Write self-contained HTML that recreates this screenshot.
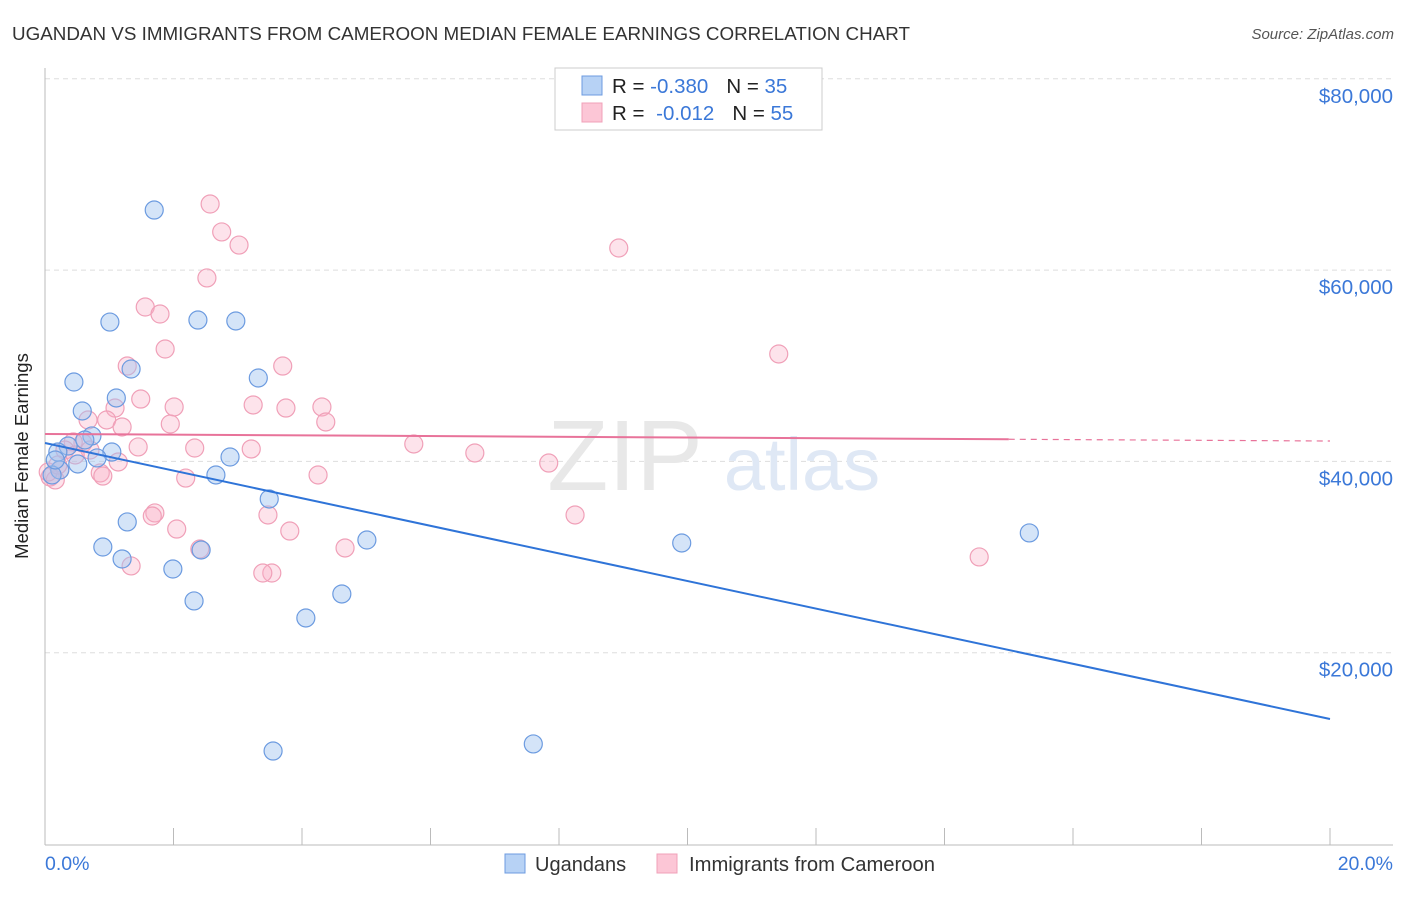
<!DOCTYPE html>
<html><head><meta charset="utf-8"><style>
body{margin:0;background:#fff;font-family:"Liberation Sans",sans-serif;}
svg text{font-family:"Liberation Sans",sans-serif;}
</style></head><body>
<svg id="c" width="1406" height="892" xmlns="http://www.w3.org/2000/svg">
<text x="12" y="40" font-size="18.5" fill="#333" textLength="898" lengthAdjust="spacingAndGlyphs">UGANDAN VS IMMIGRANTS FROM CAMEROON MEDIAN FEMALE EARNINGS CORRELATION CHART</text>
<text x="1394" y="39" font-size="15" fill="#555" font-style="italic" text-anchor="end">Source: ZipAtlas.com</text>
<g id="grid"></g>
<g><text x="625" y="490" font-size="100" fill="#e8e8e8" text-anchor="middle" font-family="Liberation Serif,serif">ZIP</text><text x="802" y="490" font-size="74" fill="#dfe8f5" text-anchor="middle">atlas</text></g>
<line x1="45" y1="68" x2="45" y2="845" stroke="#bbb"/>
<line x1="45" y1="845" x2="1393" y2="845" stroke="#bbb"/>
<g id="xt"></g>
<g id="yl"></g>
<text x="28" y="456" font-size="18.5" fill="#222" text-anchor="middle" transform="rotate(-90 28 456)">Median Female Earnings</text>
<text x="45" y="870" font-size="19.5" fill="#3b78d8">0.0%</text>
<text x="1393" y="870" font-size="19.5" fill="#3b78d8" text-anchor="end">20.0%</text>
<g id="pts"></g>
<g id="tr"></g>
<g>
<rect x="555" y="68" width="267" height="62" fill="#fff" stroke="#ccc"/>
<rect x="582" y="76" width="20" height="19" fill="#b7d2f5" stroke="#6c9be0"/>
<rect x="582" y="103" width="20" height="19" fill="#fcc6d6" stroke="#f0a0b8"/>
<text x="612" y="93" font-size="20.5" fill="#222">R = <tspan fill="#3b78d8">-0.380</tspan><tspan dx="18" fill="#222">N = </tspan><tspan fill="#3b78d8">35</tspan></text>
<text x="612" y="120" font-size="20.5" fill="#222">R = <tspan dx="6" fill="#3b78d8">-0.012</tspan><tspan dx="18" fill="#222">N = </tspan><tspan fill="#3b78d8">55</tspan></text>
</g>
<g>
<rect x="505" y="854" width="20" height="19" fill="#b7d2f5" stroke="#6c9be0"/>
<text x="535" y="871" font-size="20" fill="#333">Ugandans</text>
<rect x="657" y="854" width="20" height="19" fill="#fcc6d6" stroke="#f0a0b8"/>
<text x="689" y="871" font-size="20" fill="#333" textLength="246" lengthAdjust="spacingAndGlyphs">Immigrants from Cameroon</text>
</g>
</svg>
<script>
const yTicks=[20000,40000,60000,80000];
const yTickLabels=["$20,000","$40,000","$60,000","$80,000"];
const xTickVals=[0,2,4,6,8,10,12,14,16,18,20];
const blueX=[1.70,1.01,2.38,2.97,0.45,1.34,3.32,0.58,1.11,0.73,1.04,0.36,0.20,0.81,0.51,0.23,0.11,2.66,2.88,3.49,1.28,0.90,1.20,1.99,2.43,2.32,5.01,4.62,4.06,3.55,7.60,9.91,15.32,0.16,0.62];
const blueY=[66280,54570,54780,54680,48300,49660,48720,45270,46630,42660,40980,41610,40980,40360,39730,39100,38580,38580,40460,36070,33670,31050,29800,28750,30740,25410,31780,26140,23630,9720,10460,31470,32520,40150,42240];
const pinkX=[2.57,2.75,3.02,2.52,8.93,1.56,1.79,1.87,1.28,3.70,11.42,1.49,1.09,2.01,3.24,3.75,4.31,4.37,0.67,0.96,1.20,1.95,1.45,2.33,3.21,5.74,6.69,7.84,0.59,0.44,1.14,0.86,0.90,2.19,4.25,8.25,1.71,1.67,3.47,2.05,3.81,2.41,4.67,1.34,3.53,3.39,14.54,0.23,0.08,0.16,0.31,0.70,0.47,0.05,0.20];
const pinkY=[66910,63990,62620,59180,62310,56140,55410,51750,49970,49970,51230,46520,45580,45690,45900,45580,45690,44120,44330,44330,43600,43910,41510,41400,41300,41820,40880,39830,41920,42030,39940,38790,38470,38260,38580,34400,34610,34290,34400,32930,32720,30840,30950,29070,28330,28330,30010,39100,38370,38060,41190,41190,40670,38890,39620];
const blueTrend=[41920,13070];
const pinkTrend=[42870,42130];
const pinkSolidEnd=15;
const NS="http://www.w3.org/2000/svg";
const X=v=>45+v/20*1285;
const Y=v=>844-v/20000*191.3;
function mk(t,a,p){const e=document.createElementNS(NS,t);for(const k in a)e.setAttribute(k,a[k]);p.appendChild(e);return e;}
const grid=document.getElementById('grid'),yl=document.getElementById('yl'),xt=document.getElementById('xt'),pts=document.getElementById('pts'),tr=document.getElementById('tr');
yTicks.forEach((v,i)=>{
const g=mk('line',{x1:45,x2:1393,y1:Y(v),y2:Y(v),stroke:'#ddd','stroke-dasharray':'5,4'},grid);


const t=mk('text',{x:1393,y:Y(v)+24,'font-size':20.5,fill:'#3b78d8','text-anchor':'end'},yl);
t.textContent=yTickLabels[i];


});
xTickVals.forEach(v=>{if(v===0)return;
const l=mk('line',{x1:X(v),x2:X(v),y1:828,y2:845,stroke:'#bbb'},xt);


});
pinkX.forEach((x,i)=>{const c=mk('circle',{cx:X(x),cy:Y(pinkY[i]),r:9,fill:'rgba(248,175,198,0.35)',stroke:'#f0a0b8','stroke-width':1.2},pts);

});
blueX.forEach((x,i)=>{const c=mk('circle',{cx:X(x),cy:Y(blueY[i]),r:9,fill:'rgba(160,195,240,0.45)',stroke:'#6c9be0','stroke-width':1.2},pts);

});
const b=mk('line',{x1:X(0),y1:Y(blueTrend[0]),x2:X(20),y2:Y(blueTrend[1]),stroke:'#2f74d8','stroke-width':2},tr);


const pm=pinkTrend[0]+(pinkTrend[1]-pinkTrend[0])*pinkSolidEnd/20;
const p1=mk('line',{x1:X(0),y1:Y(pinkTrend[0]),x2:X(pinkSolidEnd),y2:Y(pm),stroke:'#e8739a','stroke-width':2},tr);


const p2=mk('line',{x1:X(pinkSolidEnd),y1:Y(pm),x2:X(20),y2:Y(pinkTrend[1]),stroke:'#e8739a','stroke-width':1.2,'stroke-dasharray':'6,5'},tr);


</script>
</body></html>
